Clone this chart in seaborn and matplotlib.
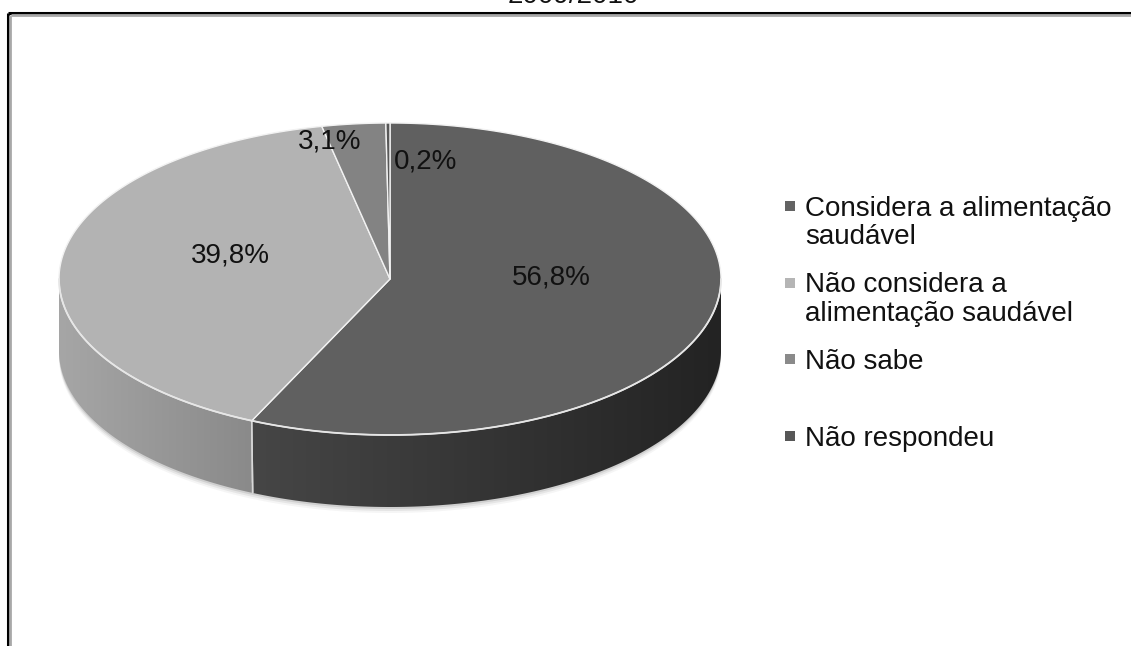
import numpy as np
import matplotlib
matplotlib.use("Agg")
import matplotlib.pyplot as plt
import seaborn as sns
from matplotlib.patches import Polygon, Rectangle
from matplotlib.colors import to_rgb

# --- data ---
categories = ["Considera a alimentação\nsaudável",
              "Não considera a\nalimentação saudável",
              "Não sabe",
              "Não respondeu"]
values = [56.8, 39.8, 3.1, 0.2]
title = "2009/2010"

# --- style ---
top_colors = ["#606060", "#b3b3b3", "#838383", "#585858"]
side_colors = [("#464646", "#232323"), ("#a6a6a6", "#8a8a8a"),
               ("#6c6c6c", "#5c5c5c"), ("#454545", "#343434")]
legend_colors = ["#636363", "#b5b5b5", "#8a8a8a", "#575757"]

sns.set_theme(style="white")
plt.rcParams["font.family"] = ["Liberation Sans", "DejaVu Sans"]

W, H = 1131, 646
fig = plt.figure(figsize=(W / 100, H / 100), dpi=100)
ax = fig.add_axes([0, 0, 1, 1])
ax.set_xlim(0, W)
ax.set_ylim(H, 0)
ax.axis("off")

# pie geometry (pixel space)
cx, cy, rx, ry, depth = 390, 279, 331, 156, 72


def rim(theta_deg, dy=0.0):
    t = np.radians(theta_deg)
    return np.column_stack([cx + rx * np.cos(t), cy - ry * np.sin(t) + dy])


# slice angles, starting at 12 o'clock and running clockwise
vals = np.asarray(values, dtype=float)
spans = 360.0 * vals / vals.sum()
starts = 90.0 - np.concatenate([[0], np.cumsum(spans)[:-1]])
ends = starts - spans

# soft shadow under the pie
for off, a in [(6, 0.06), (4, 0.10), (2, 0.16)]:
    arc = np.linspace(0, -180, 200)
    pts = np.vstack([rim(arc, depth + off), rim(arc[::-1], depth - 10)])
    ax.add_patch(Polygon(pts, closed=True, facecolor="#606060", alpha=a,
                         edgecolor="none", zorder=1))

# outer side walls for the visible front half
for i in range(len(vals)):
    a0 = min(starts[i], 0.0)
    a1 = max(ends[i], -180.0)
    if a0 <= a1:
        continue
    arc = np.linspace(a0, a1, 200)
    top = rim(arc)
    bot = rim(arc[::-1], depth)
    pts = np.vstack([top, bot])
    poly = Polygon(pts, closed=True, facecolor="none", edgecolor="none", zorder=2)
    ax.add_patch(poly)
    c0, c1 = np.array(to_rgb(side_colors[i][0])), np.array(to_rgb(side_colors[i][1]))
    g = np.linspace(0, 1, 256)[:, None]
    img = (c0 * (1 - g) + c1 * g)[None, :, :]
    x0, x1 = pts[:, 0].min(), pts[:, 0].max()
    y0, y1 = pts[:, 1].min(), pts[:, 1].max()
    im = ax.imshow(img, extent=(x0, x1, y1, y0), aspect="auto",
                   interpolation="bilinear", zorder=2)
    im.set_clip_path(poly)
    # light seam on the wall where a slice boundary meets the front
    for a in (a0, a1):
        if -180.0 < a < 0.0:
            p = rim([a])[0]
            ax.plot([p[0], p[0] + 1], [p[1], p[1] + depth], color="#d8d8d8",
                    lw=1.0, zorder=3)

# top faces
for i in range(len(vals)):
    arc = np.linspace(starts[i], ends[i], max(int(spans[i] * 3), 4))
    pts = np.vstack([[cx, cy], rim(arc)])
    ax.add_patch(Polygon(pts, closed=True, facecolor=top_colors[i],
                         edgecolor="#f2f2f2", lw=1.0, joinstyle="round", zorder=4))

# highlight along the front rim
arc = np.linspace(0, -180, 300)
rp = rim(arc)
ax.plot(rp[:, 0], rp[:, 1], color="#e6e6e6", lw=1.3, zorder=5)

# value labels
label_xy = [(551, 285), (230, 262), (330, 148), (426, 168)]
for v, (lx, ly) in zip(values, label_xy):
    ax.text(lx, ly, f"{v:.1f}%".replace(".", ","), ha="center", va="baseline",
            fontsize=20, color="#111111", zorder=6)

# legend
leg_x, leg_y0, leg_slot, line_h = 785, 216, 76.5, 28.5
for i, (lab, col) in enumerate(zip(categories, legend_colors)):
    base = leg_y0 + i * leg_slot
    ax.add_patch(Rectangle((leg_x, base - 15), 10, 10, facecolor=col,
                           edgecolor="none", zorder=6))
    for j, line in enumerate(lab.split("\n")):
        ax.text(leg_x + 20, base + j * line_h, line, ha="left", va="baseline",
                fontsize=20, color="#111111", zorder=6)

# chart frame (double line, top and left visible)
ax.plot([7.5, W], [12.5, 12.5], color="black", lw=2.2, zorder=7, solid_capstyle="butt")
ax.plot([7.5, 7.5], [12.5, H], color="black", lw=2.2, zorder=7, solid_capstyle="butt")
ax.plot([10.5, W], [14.8, 14.8], color="#a8a8a8", lw=2.0, zorder=7, solid_capstyle="butt")
ax.plot([10.0, 10.0], [14.8, H], color="#a8a8a8", lw=2.0, zorder=7, solid_capstyle="butt")

# title, partly above the visible area
ax.text(573, 3, title, ha="center", va="baseline", fontsize=20,
        color="#111111", clip_on=False, zorder=7)

ax.set_xlim(0, W)
ax.set_ylim(H, 0)
fig.savefig("out.png", dpi=100)
